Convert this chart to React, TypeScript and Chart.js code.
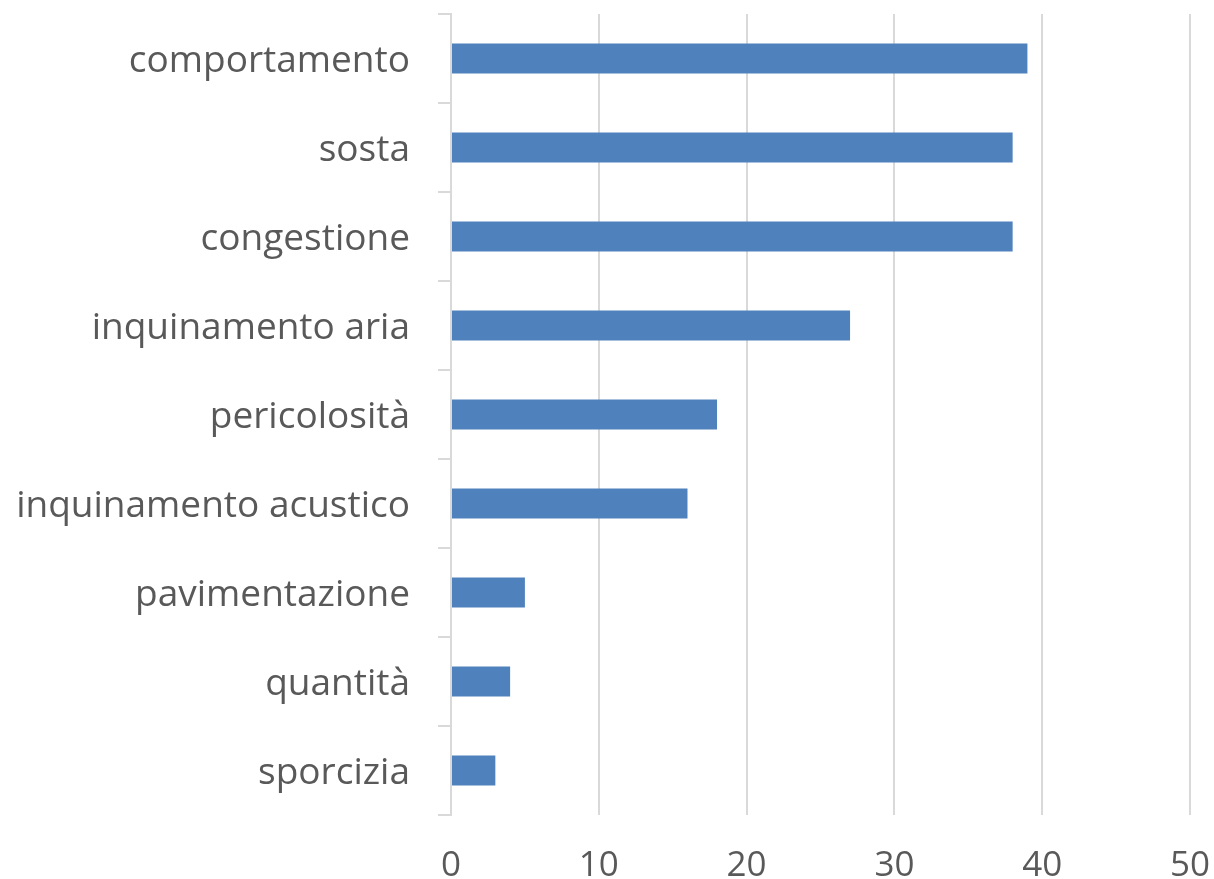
import React, { useEffect, useRef } from "react";
import { Chart, registerables } from "chart.js";

Chart.register(...registerables);

const categories = [
  "comportamento",
  "sosta",
  "congestione",
  "inquinamento aria",
  "pericolosità",
  "inquinamento acustico",
  "pavimentazione",
  "quantità",
  "sporcizia",
];
const values = [39, 38, 38, 27, 18, 16, 5, 4, 3];
const xMin = 0;
const xMax = 50;
const xStep = 10;

const FONT = "'Open Sans', sans-serif";
const TEXT = "#595959";
const GRID = "#d9d9d9";

export default function App() {
  const ref = useRef<HTMLCanvasElement | null>(null);
  useEffect(() => {
    document.body.style.margin = "0";
    const ctx = ref.current!;
    const chart = new Chart(ctx, {
      type: "bar",
      data: {
        labels: categories,
        datasets: [
          {
            data: values,
            backgroundColor: "#4f81bd",
            borderWidth: 0,
            categoryPercentage: 1,
            barPercentage: 0.337,
          },
        ],
      },
      options: {
        indexAxis: "y",
        responsive: false,
        animation: false,
        layout: { padding: { top: 14, right: 24, left: 0, bottom: 0 } },
        plugins: { legend: { display: false }, tooltip: { enabled: false } },
        scales: {
          x: {
            min: xMin,
            max: xMax,
            ticks: {
              stepSize: xStep,
              color: TEXT,
              font: { family: FONT, size: 35 },
              padding: 30,
            },
            grid: { color: GRID, lineWidth: 2, drawTicks: false },
            border: { display: false },
            afterFit: (s: any) => {
              s.height = 64;
              s.paddingLeft = 0;
              s.paddingRight = 0;
            },
          },
          y: {
            ticks: {
              color: TEXT,
              font: { family: FONT, size: 37 },
              padding: 28,
              labelOffset: 3,
            },
            grid: {
              color: GRID,
              lineWidth: 2,
              drawOnChartArea: false,
              drawTicks: true,
              tickLength: 13,
              offset: true,
            },
            border: { display: true, color: GRID, width: 2 },
            afterFit: (s: any) => {
              s.width = 451;
              s.paddingTop = 0;
              s.paddingBottom = 0;
            },
          },
        },
      },
    });
    return () => chart.destroy();
  }, []);
  return <canvas ref={ref} width={1214} height={879} />;
}
